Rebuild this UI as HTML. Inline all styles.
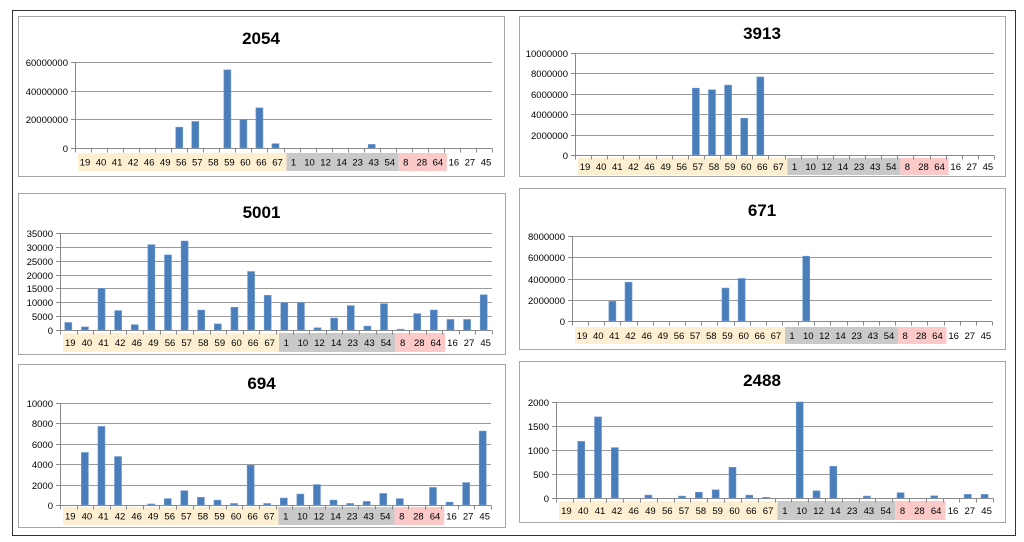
<!DOCTYPE html>
<html><head><meta charset="utf-8">
<style>
body{margin:0;background:#fff;width:1024px;height:542px;overflow:hidden;font-family:"Liberation Sans",sans-serif}
svg{position:absolute;left:0;top:0}
</style></head>
<body>
<svg id="s" width="1024" height="542"></svg>
<script>
const categories=["19","40","41","42","46","49","56","57","58","59","60","66","67","1","10","12","14","23","43","54","8","28","64","16","27","45"];
const groupSizes=[13,7,3,3];
const groupColors=["#fdf0d2","#c9c9c9","#fcc9c9","none"];
const titles=["2054","3913","5001","671","694","2488"];
const v2054=[0,0,0,0,0,0,14500000,18500000,0,54500000,20000000,28000000,3000000,0,0,0,0,0,2500000,0,0,0,0,0,0,0];
const v3913=[0,0,0,0,0,0,0,6550000,6400000,6850000,3600000,7650000,0,0,0,0,0,0,0,0,0,0,0,0,0,0];
const v5001=[2700,1100,15000,7000,1900,30800,27100,32100,7200,2200,8200,21100,12500,9900,9900,800,4300,8800,1400,9500,300,5900,7200,3800,3800,12700];
const v671=[0,0,1850000,3650000,0,0,0,0,0,3100000,4000000,0,0,0,6100000,0,0,0,0,0,0,0,0,0,0,0];
const v694=[0,5150,7700,4750,0,100,620,1400,750,480,150,3900,150,680,1070,2000,480,150,350,1130,620,0,1720,270,2200,7250];
const v2488=[0,1180,1690,1050,0,60,0,40,120,170,640,60,15,0,2000,150,660,0,40,0,110,0,45,0,75,75];
const ticks2054=[0,20000000,40000000,60000000];
const ticks3913=[0,2000000,4000000,6000000,8000000,10000000];
const ticks5001=[0,5000,10000,15000,20000,25000,30000,35000];
const ticks671=[0,2000000,4000000,6000000,8000000];
const ticks694=[0,2000,4000,6000,8000,10000];
const ticks2488=[0,500,1000,1500,2000];
const series=[v2054,v3913,v5001,v671,v694,v2488];
const tickSets=[ticks2054,ticks3913,ticks5001,ticks671,ticks694,ticks2488];
const layouts=[
 {fx:18,fy:16,fw:486,fh:160,ty:38,l:75,r:492,t:62,z:148,bt:153,bb:171},
 {fx:519,fy:16,fw:486,fh:160,ty:33,l:575,r:994,t:53,z:155,bt:158,bb:175},
 {fx:18,fy:193,fw:487,fh:161,ty:212,l:60,r:492,t:233,z:330,bt:333,bb:352},
 {fx:519,fy:188,fw:486,fh:161,ty:210,l:572,r:992,t:236,z:321,bt:327,bb:344},
 {fx:18,fy:364,fw:487,fh:163,ty:383,l:60,r:491,t:403,z:505,bt:507,bb:525},
 {fx:519,fy:361,fw:486,fh:161,ty:380,l:556,r:993,t:402,z:498,bt:501,bb:520}
];
const NS="http://www.w3.org/2000/svg";
const svg=document.getElementById('s');
function mk(tag,attrs,parent){const e=document.createElementNS(NS,tag);for(const k in attrs)e.setAttribute(k,attrs[k]);(parent||svg).appendChild(e);return e;}
const outer=mk('rect',{x:12.5,y:10.5,width:1003,height:525,fill:'none',stroke:'#333','stroke-width':1});


titles.forEach((title,i)=>{
 const L=layouts[i],vals=series[i],tk=tickSets[i];
 const g=mk('g',{});
 
 
 const fr=mk('rect',{x:L.fx+.5,y:L.fy+.5,width:L.fw,height:L.fh,fill:'#fff',stroke:'#a6a6a6'},g);
 
 
 const tt=mk('text',{x:L.fx+L.fw/2,y:L.ty+6,'text-anchor':'middle','font-size':17,'font-weight':'bold',fill:'#000'},g);
 tt.textContent=title;
 
 
 const n=categories.length,cw=(L.r-L.l)/n;
 const maxV=tk[tk.length-1];
 const yf=v=>L.z-(v/maxV)*(L.z-L.t);
 const xf=j=>L.l+cw*j;
 // bands
 let s=0;
 groupSizes.forEach((gs,k)=>{
  if(groupColors[k]!=='none'){
   const b=mk('rect',{x:xf(s)+3,y:L.bt,width:cw*gs,height:L.bb-L.bt,fill:groupColors[k]},g);
   
   
  }
  s+=gs;
 });
 // grid
 tk.forEach(v=>{
  const y=Math.round(yf(v))+.5;
  if(v>0){const gl=mk('line',{x1:L.l,x2:L.r,y1:y,y2:y,stroke:'#9a9a9a'},g);
   
   }
  mk('line',{x1:L.l-4,x2:L.l,y1:y,y2:y,stroke:'#888'},g);
  const lb=mk('text',{x:L.l-7,y:y+3.5,'text-anchor':'end','font-size':9.5,fill:'#000'},g);
  lb.textContent=v;
  
  
 });
 mk('line',{x1:L.l+.5,x2:L.l+.5,y1:L.t,y2:L.z,stroke:'#888'},g);
 const za=Math.round(L.z)+.5;
 mk('line',{x1:L.l,x2:L.r,y1:za,y2:za,stroke:'#888'},g);
 for(let j=0;j<=n;j++){const x=Math.round(xf(j))+.5;mk('line',{x1:x,x2:x,y1:za,y2:za+4,stroke:'#888'},g);}
 categories.forEach((c,j)=>{
  const v=vals[j];
  if(v>0){
   const y=yf(v);
   const b=mk('rect',{x:xf(j)+cw/2-3.5,y:y,width:7,height:L.z-y,fill:'#4a7ebb',stroke:'#6f9bd0','stroke-width':.6},g);
   
   
  }
  const t=mk('text',{x:xf(j)+cw/2+2,y:(L.bt+L.bb)/2+3.5,'text-anchor':'middle','font-size':9.5,fill:'#000'},g);
  t.textContent=c;
  
  
 });
});
</script>
</body></html>
